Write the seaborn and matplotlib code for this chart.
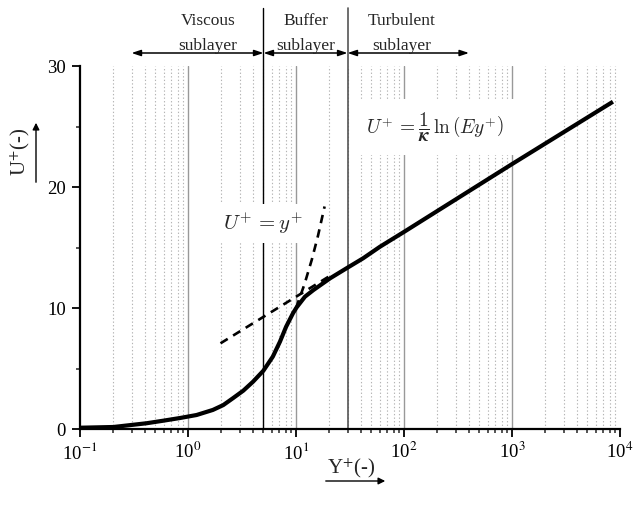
import numpy as np
import pandas as pd
import matplotlib
matplotlib.use("Agg")
import matplotlib.pyplot as plt
import seaborn as sns

# Dimensionless velocity profile of a turbulent boundary layer (law of the wall)
yplus_profile = [0.1, 0.204, 0.414, 0.59, 0.84, 1.2, 1.7, 2.12, 2.6, 3.25, 4.0, 4.99,
                 6.1, 7.1, 8.1, 9.4, 10.1, 12.1, 14.5, 20.7, 29.4, 41.8, 60.0,
                 100.0, 1000.0, 8600.0]
uplus_profile = [0.13, 0.19, 0.5, 0.71, 0.93, 1.18, 1.6, 2.0, 2.56, 3.19, 3.93, 4.84,
                 6.0, 7.23, 8.47, 9.6, 10.05, 10.95, 11.5, 12.47, 13.3, 14.12, 15.08,
                 16.3, 21.9, 27.05]

# Viscous-sublayer relation U+ = y+
visc_yplus = [10.0, 12.0, 14.0, 16.0, 18.4]
visc_uplus = [10.0, 12.0, 14.0, 16.0, 18.4]

# Log-law line
log_yplus = [2.0, 20.0]
log_uplus = [7.1, 12.6]

# Layer boundaries and labels
layer_bounds = [0.3, 5.0, 30.0, 400.0]
layer_names = ["Viscous\nsublayer", "Buffer\nsublayer", "Turbulent\nsublayer"]
layer_label_x = [1.53, 12.4, 95.7]

x_ticks = [0.1, 1, 10, 100, 1000, 10000]
x_ticklabels = ["10$^{-1}$", "10$^{0}$", "10$^{1}$", "10$^{2}$", "10$^{3}$", "10$^{4}$"]
y_ticks = [0, 10, 20, 30]

sns.set_theme(style="white")
plt.rcParams["font.family"] = ["Liberation Serif", "DejaVu Serif"]
plt.rcParams["mathtext.fontset"] = "stix"

fig = plt.figure(figsize=(6.34, 5.14), dpi=100)
ax = fig.add_axes([80 / 634, 1 - 429.3 / 514, 540 / 634, 363.3 / 514])

profile = pd.DataFrame({"y": yplus_profile, "u": uplus_profile})
visc = pd.DataFrame({"y": visc_yplus, "u": visc_uplus})
loglaw = pd.DataFrame({"y": log_yplus, "u": log_uplus})

ax.set_xscale("log")
ax.set_xlim(0.1, 1e4)
ax.set_ylim(0, 30)

# grid: solid decades, dotted sub-decades
for d in [1, 10, 100, 1000]:
    ax.axvline(d, color="#999999", lw=1.0, zorder=1)
for d in [0.1, 1, 10, 100, 1000]:
    for m in range(2, 10):
        ax.axvline(d * m, color="#b4b4b4", lw=0.8, ls=(0, (1.2, 2)), zorder=1)

# layer boundaries extend above the plot area
ax.axvline(5.0, ymin=0, ymax=(429.3 - 8) / 363.3, color="black", lw=1.0,
           clip_on=False, zorder=2)
ax.axvline(30.0, ymin=0, ymax=(429.3 - 8) / 363.3, color="#555555", lw=1.2,
           clip_on=False, zorder=2)

arrow_y = (429.3 - 53) / 363.3
for a, b in zip(layer_bounds[:-1], layer_bounds[1:]):
    ax.annotate("", xy=(b, arrow_y), xytext=(a, arrow_y),
                xycoords=("data", "axes fraction"), textcoords=("data", "axes fraction"),
                arrowprops=dict(arrowstyle="<|-|>,head_length=0.45,head_width=0.15",
                                color="black", lw=1.1, shrinkA=0, shrinkB=0),
                annotation_clip=False)
label_y = (429.3 - 33) / 363.3
for name, lx in zip(layer_names, layer_label_x):
    ax.text(lx, label_y, name, transform=ax.get_xaxis_transform(), ha="center",
            va="center", fontsize=12.5, linespacing=1.75)

sns.lineplot(data=visc, x="y", y="u", ax=ax, color="black", lw=1.9,
             linestyle=(0, (3.2, 2.4)), zorder=4)
sns.lineplot(data=loglaw, x="y", y="u", ax=ax, color="black", lw=1.9,
             linestyle=(0, (3.2, 2.4)), zorder=4)
sns.lineplot(data=profile, x="y", y="u", ax=ax, color="black", lw=3.0, zorder=5,
             solid_capstyle="butt", solid_joinstyle="round")

ax.text(4.95, 17.0, r"$U^{+}\,=y^{+}$", math_fontfamily="cm", fontsize=15,
        ha="center", va="center", zorder=3,
        bbox=dict(facecolor="white", edgecolor="none", pad=5))
ax.text(193.6, 24.96, r"$U^{+}\,=\dfrac{1}{\boldsymbol{\kappa}}\,\ln\left(Ey^{+}\right)$",
        math_fontfamily="cm", fontsize=14, ha="center", va="center", zorder=3,
        bbox=dict(facecolor="white", edgecolor="none", pad=8))

ax.set_xticks(x_ticks)
ax.set_xticklabels(x_ticklabels)
ax.set_yticks(y_ticks)
ax.set_yticks([5, 15, 25], minor=True)
ax.tick_params(axis="both", which="major", direction="out", length=6, width=1.3,
               labelsize=13.5, colors="black", bottom=True, left=True)
ax.tick_params(axis="both", which="minor", direction="out", length=3, width=1.1,
               bottom=True, left=True)
ax.tick_params(axis="x", which="major", pad=3)
ax.tick_params(axis="y", which="major", pad=4)
ax.set_xlabel("")
ax.set_ylabel("")

for s in ["top", "right"]:
    ax.spines[s].set_visible(False)
for s in ["left", "bottom"]:
    ax.spines[s].set_linewidth(1.6)
    ax.spines[s].set_color("black")

# axis titles with direction arrows
fig.text(351 / 634, 1 - 468 / 514, "Y$^{+}$(-)", ha="center", va="center", fontsize=15)
fig.add_artist(matplotlib.patches.FancyArrowPatch(
    (323 / 634, 1 - 481 / 514), (388 / 634, 1 - 481 / 514), transform=fig.transFigure,
    arrowstyle="-|>,head_length=4,head_width=2", color="black", lw=1.0))
fig.text(20 / 634, 1 - 152 / 514, "U$^{+}$(-)", ha="center", va="center", fontsize=15,
         rotation=90)
fig.add_artist(matplotlib.patches.FancyArrowPatch(
    (36 / 634, 1 - 185 / 514), (36 / 634, 1 - 120 / 514), transform=fig.transFigure,
    arrowstyle="-|>,head_length=4,head_width=2", color="black", lw=1.0))

fig.savefig("out.png", dpi=100)
